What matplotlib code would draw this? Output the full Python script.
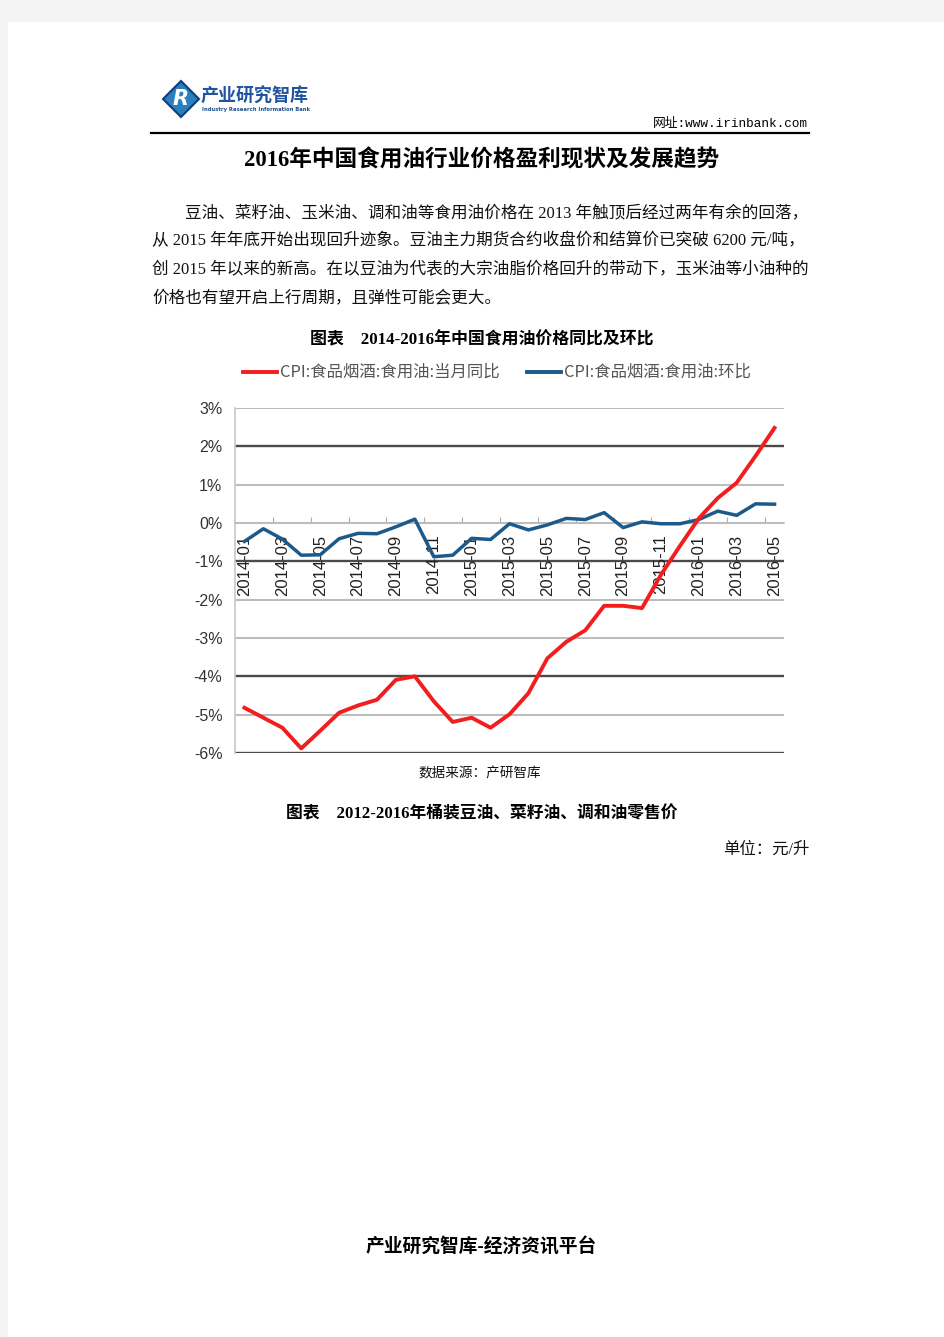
import matplotlib

matplotlib.use("Agg")

import matplotlib.pyplot as plt
from matplotlib.lines import Line2D
from matplotlib.patches import Polygon, Rectangle

plt.rcParams["font.family"] = ["Noto Sans CJK SC", "DejaVu Sans"]
plt.rcParams["axes.unicode_minus"] = False

W, H = 945, 1337

MONTHS = [
    "2014-01", "2014-02", "2014-03", "2014-04", "2014-05", "2014-06",
    "2014-07", "2014-08", "2014-09", "2014-10", "2014-11", "2014-12",
    "2015-01", "2015-02", "2015-03", "2015-04", "2015-05", "2015-06",
    "2015-07", "2015-08", "2015-09", "2015-10", "2015-11", "2015-12",
    "2016-01", "2016-02", "2016-03", "2016-04", "2016-05",
]
# CPI 食用油 当月同比 (%)
YOY = [
    -4.82, -5.08, -5.34, -5.88, -5.42, -4.95, -4.76, -4.61, -4.09, -4.00,
    -4.65, -5.19, -5.08, -5.34, -4.99, -4.44, -3.53, -3.10, -2.80, -2.16,
    -2.16, -2.22, -1.35, -0.60, 0.12, 0.65, 1.05, 1.75, 2.48,
]
# CPI 食用油 环比 (%)
MOM = [
    -0.48, -0.15, -0.42, -0.84, -0.83, -0.41, -0.27, -0.28, -0.10, 0.10,
    -0.88, -0.84, -0.40, -0.43, -0.02, -0.18, -0.05, 0.12, 0.09, 0.27,
    -0.12, 0.03, -0.02, -0.02, 0.09, 0.31, 0.20, 0.50, 0.49,
]
YTICKS = [3, 2, 1, 0, -1, -2, -3, -4, -5, -6]
DARK_GRID = [2, -1, -4, -6]
LEGEND = ["CPI:食品烟酒:食用油:当月同比", "CPI:食品烟酒:食用油:环比"]

TITLE = "2016年中国食用油行业价格盈利现状及发展趋势"
BODY = [
    "豆油、菜籽油、玉米油、调和油等食用油价格在 2013 年触顶后经过两年有余的回落，",
    "从 2015 年年底开始出现回升迹象。豆油主力期货合约收盘价和结算价已突破 6200 元/吨，",
    "创 2015 年以来的新高。在以豆油为代表的大宗油脂价格回升的带动下，玉米油等小油种的",
    "价格也有望开启上行周期，且弹性可能会更大。",
]
CAPTION_1 = "图表    2014-2016年中国食用油价格同比及环比"
CAPTION_2 = "图表    2012-2016年桶装豆油、菜籽油、调和油零售价"
SOURCE = "数据来源：产研智库"
UNIT = "单位：元/升"
FOOTER = "产业研究智库-经济资讯平台"

SERIF = ["Liberation Serif", "Noto Sans CJK SC"]
RED = "#f41d1d"
BLUE = "#1d5a8c"


def fx(x):
    return x / W


def fy(y):
    return 1 - y / H


fig = plt.figure(figsize=(W / 100, H / 100), dpi=100, facecolor="#f3f3f3")
fig.add_artist(
    Rectangle((fx(8), 0), 1 - fx(8), fy(22), transform=fig.transFigure,
              facecolor="white", edgecolor="none", zorder=0)
)

# header: logo + url
fig.add_artist(
    Polygon([(fx(163), fy(99)), (fx(181), fy(81)), (fx(199), fy(99)), (fx(181), fy(117))],
            closed=True, transform=fig.transFigure, facecolor="#2a7fc0",
            edgecolor="#0f3f78", lw=1.5, zorder=1)
)
fig.text(fx(181), fy(99), "R", ha="center", va="center", fontsize=15, fontweight="bold",
         fontstyle="italic", color="white", family=["DejaVu Sans"])
fig.text(fx(201), fy(96), "产业研究智库", ha="left", va="center", fontsize=13,
         fontweight="bold", color="#1f55a0")
fig.text(fx(202), fy(109), "Industry Research Information Bank", ha="left", va="center",
         fontsize=3.8, fontweight="bold", color="#1f4f8f", family=["DejaVu Sans"])
fig.text(fx(808), fy(124), "网址:www.irinbank.com", ha="right", va="center", fontsize=9.2,
         color="black", family=["Liberation Mono", "Noto Sans CJK SC"])
fig.add_artist(Line2D([fx(151), fx(809)], [fy(133), fy(133)], color="black", lw=1.6,
                      transform=fig.transFigure))

# title and body text
fig.text(fx(482), fy(160), TITLE, ha="center", va="center", fontsize=16.3,
         fontweight="bold", family=SERIF)
for i, line in enumerate(BODY):
    x0 = 185 if i == 0 else 152
    fig.text(fx(x0), fy(213 + i * 28.3), line, ha="left", va="center", fontsize=11.95,
             family=SERIF, color="#111111")

fig.text(fx(482), fy(340), CAPTION_1, ha="center", va="center", fontsize=12.2,
         fontweight="bold", family=SERIF)

# legend
fig.add_artist(Line2D([fx(243), fx(277)], [fy(372), fy(372)], color=RED, lw=2.8,
                      transform=fig.transFigure))
fig.text(fx(280), fy(372), LEGEND[0], ha="left", va="center", fontsize=11.8, color="#555555")
fig.add_artist(Line2D([fx(527), fx(561)], [fy(372), fy(372)], color=BLUE, lw=2.8,
                      transform=fig.transFigure))
fig.text(fx(564), fy(372), LEGEND[1], ha="left", va="center", fontsize=11.8, color="#555555")

# chart
ax = fig.add_axes([fx(235), fy(753), fx(784) - fx(235), (753 - 408) / H])
ax.set_facecolor("white")
x = list(range(len(MONTHS)))
ax.set_xlim(-0.5, len(MONTHS) - 0.5)
ax.set_ylim(-6, 3)

for v in YTICKS:
    dark = v in DARK_GRID
    ax.axhline(v, color="#4a4a4a" if dark else "#bdbdbd", lw=1.7 if dark else 1.5,
               zorder=1)

for side in ["top", "right"]:
    ax.spines[side].set_visible(False)
ax.spines["left"].set_color("#c8c8c8")
ax.spines["left"].set_linewidth(1.2)
ax.spines["bottom"].set_position(("data", 0))
ax.spines["bottom"].set_color("#bdbdbd")
ax.spines["bottom"].set_linewidth(1.2)

ax.set_yticks(YTICKS)
ax.set_yticklabels([f"{v}%" for v in YTICKS], family=["Liberation Sans", "DejaVu Sans"],
                   fontsize=11.5, color="#333333")
ax.tick_params(axis="y", length=0, pad=9)
ax.set_xticks([i + 1.5 for i in range(0, len(MONTHS) - 2, 2)])
ax.tick_params(axis="x", direction="in", length=4, color="#aaaaaa", labelbottom=False)

for i in range(0, len(MONTHS), 2):
    ax.text(i, -0.3, MONTHS[i], rotation=90, ha="center", va="top", fontsize=12,
            color="#222222", family=["Liberation Sans", "DejaVu Sans"], zorder=2)

ax.plot(x, MOM, color=BLUE, lw=2.5, zorder=3, solid_joinstyle="round")
ax.plot(x, YOY, color=RED, lw=2.8, zorder=4, solid_joinstyle="round")

fig.text(fx(480), fy(773), SOURCE, ha="center", va="center", fontsize=9.8, color="#111111")
fig.text(fx(482), fy(814), CAPTION_2, ha="center", va="center", fontsize=12.1,
         fontweight="bold", family=SERIF)
fig.text(fx(810), fy(850), UNIT, ha="right", va="center", fontsize=11.8, family=SERIF,
         color="#111111")
fig.text(fx(481), fy(1247), FOOTER, ha="center", va="center", fontsize=13.5,
         fontweight="bold", family=SERIF)

fig.savefig("out.png", dpi=100, facecolor=fig.get_facecolor())
